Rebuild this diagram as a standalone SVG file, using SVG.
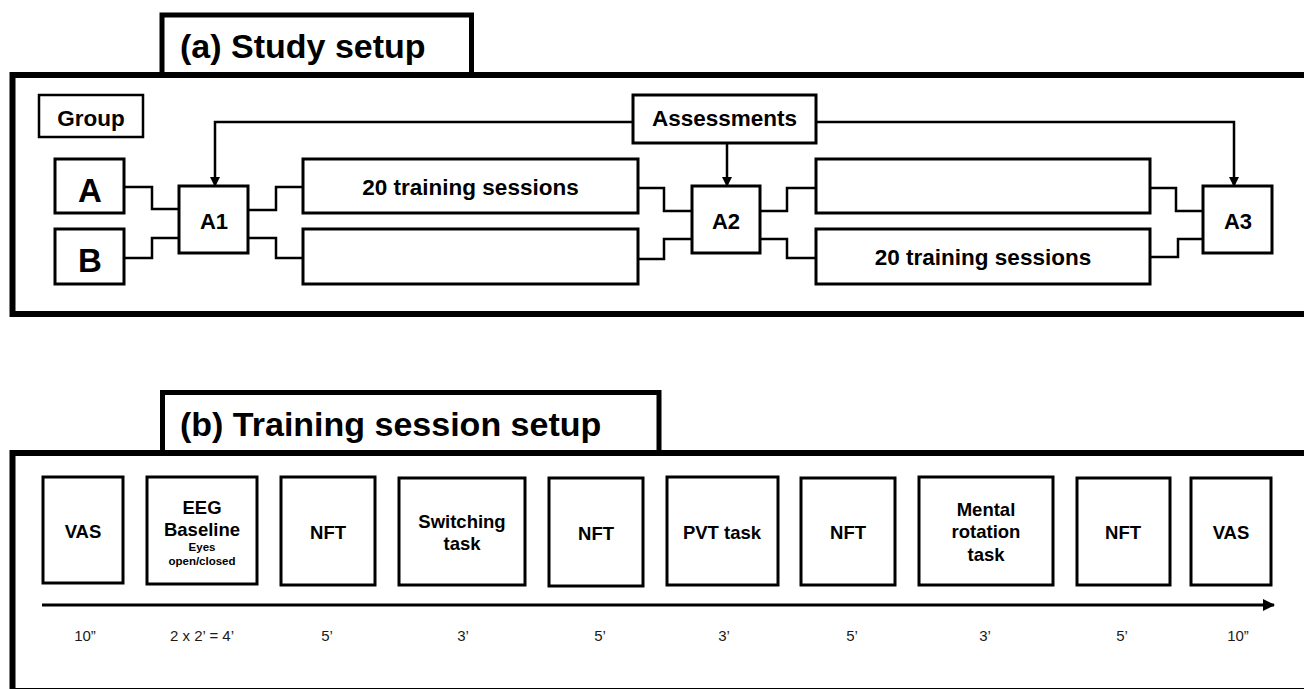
<svg xmlns="http://www.w3.org/2000/svg" width="1304" height="689" viewBox="0 0 1304 689">
<style>
.frame{fill:none;stroke:#000;stroke-width:6}
.tab{fill:#fff;stroke:#000;stroke-width:5}
.nodeA{fill:#fff;stroke:#000;stroke-width:2.5}
.nodeB{fill:#fff;stroke:#000;stroke-width:3}
.conn{fill:none;stroke:#000;stroke-width:2.5}
.t{font-family:"Liberation Sans",Arial,sans-serif;font-weight:bold;fill:#000;text-anchor:middle}
.title{font-family:"Liberation Sans",Arial,sans-serif;font-weight:bold;font-size:34px;fill:#000}
.time{font-family:"Liberation Sans",Arial,sans-serif;font-size:15px;fill:#1a1a1a;text-anchor:middle}
</style>
<defs>
<marker id="ah" markerWidth="10" markerHeight="10" refX="9" refY="5" orient="auto" markerUnits="userSpaceOnUse">
<path d="M0,0 L10,5 L0,10 Z" fill="#000"/>
</marker>
<marker id="ah2" markerWidth="12" markerHeight="12" refX="11" refY="6" orient="auto" markerUnits="userSpaceOnUse">
<path d="M0,0 L12,6 L0,12 Z" fill="#000"/>
</marker>
</defs>
<rect width="1304" height="689" fill="#fff"/>

<!-- Panel (a) -->
<g id="panel-a">
<rect class="tab" x="162" y="15" width="309.5" height="60"/>
<text class="title" x="180" y="58">(a) Study setup</text>
<rect class="frame" x="12.5" y="75" width="1320" height="239"/>
</g>

<g id="group-label"><rect class="nodeA" x="39" y="95" width="104" height="42"/><text class="t" x="91" y="126" font-size="22.5">Group</text></g>
<g id="node-A"><rect class="nodeB" x="55" y="159" width="69" height="54"/><text class="t" x="90" y="202" font-size="33">A</text></g>
<g id="node-B"><rect class="nodeB" x="55" y="229" width="69" height="55"/><text class="t" x="90" y="272" font-size="33">B</text></g>
<g id="node-A1"><rect class="nodeB" x="179" y="186" width="69" height="67"/><text class="t" x="214" y="229" font-size="22">A1</text></g>
<g id="node-A2"><rect class="nodeB" x="692" y="186" width="68" height="67"/><text class="t" x="726" y="229" font-size="22">A2</text></g>
<g id="node-A3"><rect class="nodeB" x="1203" y="186" width="69" height="67"/><text class="t" x="1238" y="229" font-size="22">A3</text></g>
<g id="node-assessments"><rect class="nodeB" x="633" y="95" width="183" height="48"/><text class="t" x="724.5" y="126" font-size="22.5">Assessments</text></g>
<g id="train-A1"><rect class="nodeB" x="303" y="159" width="335" height="54"/><text class="t" x="470.5" y="195" font-size="22.5">20 training sessions</text></g>
<g id="train-B1"><rect class="nodeB" x="303" y="229" width="335" height="55"/></g>
<g id="train-A2"><rect class="nodeB" x="816" y="159" width="334" height="54"/></g>
<g id="train-B2"><rect class="nodeB" x="816" y="229" width="334" height="55"/><text class="t" x="983" y="265" font-size="22.5">20 training sessions</text></g>

<g id="connectors-a">
<path class="conn" d="M124,187 H152 V209 H179"/>
<path class="conn" d="M124,258 H152 V238 H179"/>
<path class="conn" d="M248,210 H276 V187 H303"/>
<path class="conn" d="M248,238 H276 V258 H303"/>
<path class="conn" d="M638,188 H664 V211 H692"/>
<path class="conn" d="M638,259 H664 V239 H692"/>
<path class="conn" d="M760,211 H787 V188 H816"/>
<path class="conn" d="M760,239 H787 V258 H816"/>
<path class="conn" d="M1150,188 H1176 V211 H1203"/>
<path class="conn" d="M1150,257 H1178 V239 H1203"/>
<path class="conn" d="M633,122 H215 V186" marker-end="url(#ah)"/>
<path class="conn" d="M727,143 V186" marker-end="url(#ah)"/>
<path class="conn" d="M816,122 H1234 V186" marker-end="url(#ah)"/>
</g>

<!-- Panel (b) -->
<g id="panel-b">
<rect class="tab" x="162.5" y="392.5" width="496.5" height="60"/>
<text class="title" x="180" y="436">(b) Training session setup</text>
<rect class="frame" x="12.5" y="453" width="1320" height="238"/>
</g>

<g id="b-vas1"><rect class="nodeB" x="43" y="477" width="80" height="106"/><text class="t" x="83" y="538" font-size="18.5">VAS</text></g>
<g id="b-eeg"><rect class="nodeB" x="147" y="477" width="110" height="107"/>
<text class="t" x="202" y="514" font-size="18.5">EEG</text>
<text class="t" x="202" y="536" font-size="18.5">Baseline</text>
<text class="t" x="202" y="551" font-size="11.5">Eyes</text>
<text class="t" x="202" y="565" font-size="11.5">open/closed</text></g>
<g id="b-nft1"><rect class="nodeB" x="281" y="477" width="94" height="108"/><text class="t" x="328" y="539" font-size="18.5">NFT</text></g>
<g id="b-switch"><rect class="nodeB" x="399" y="478" width="126" height="107"/><text class="t" x="462" y="528" font-size="18.5">Switching</text><text class="t" x="462" y="550" font-size="18.5">task</text></g>
<g id="b-nft2"><rect class="nodeB" x="549" y="478" width="94" height="108"/><text class="t" x="596" y="540" font-size="18.5">NFT</text></g>
<g id="b-pvt"><rect class="nodeB" x="667" y="477" width="111" height="108"/><text class="t" x="722" y="539" font-size="18.5">PVT task</text></g>
<g id="b-nft3"><rect class="nodeB" x="801" y="478" width="94" height="107"/><text class="t" x="848" y="539" font-size="18.5">NFT</text></g>
<g id="b-mental"><rect class="nodeB" x="919" y="477" width="134" height="108"/><text class="t" x="986" y="516" font-size="18.5">Mental</text><text class="t" x="986" y="538" font-size="18.5">rotation</text><text class="t" x="986" y="561" font-size="18.5">task</text></g>
<g id="b-nft4"><rect class="nodeB" x="1077" y="478" width="93" height="107"/><text class="t" x="1123" y="539" font-size="18.5">NFT</text></g>
<g id="b-vas2"><rect class="nodeB" x="1191" y="478" width="80" height="107"/><text class="t" x="1231" y="539" font-size="18.5">VAS</text></g>

<g id="connectors-b">
<path d="M42,605 H1274" fill="none" stroke="#000" stroke-width="3" marker-end="url(#ah2)"/>
</g>

<g id="time-labels">
<text class="time" x="85" y="641">10”</text>
<text class="time" x="202" y="641">2 x 2’ = 4’</text>
<text class="time" x="327" y="641">5’</text>
<text class="time" x="463" y="641">3’</text>
<text class="time" x="600" y="641">5’</text>
<text class="time" x="724" y="641">3’</text>
<text class="time" x="852" y="641">5’</text>
<text class="time" x="985" y="641">3’</text>
<text class="time" x="1122" y="641">5’</text>
<text class="time" x="1238" y="641">10”</text>
</g>
</svg>
